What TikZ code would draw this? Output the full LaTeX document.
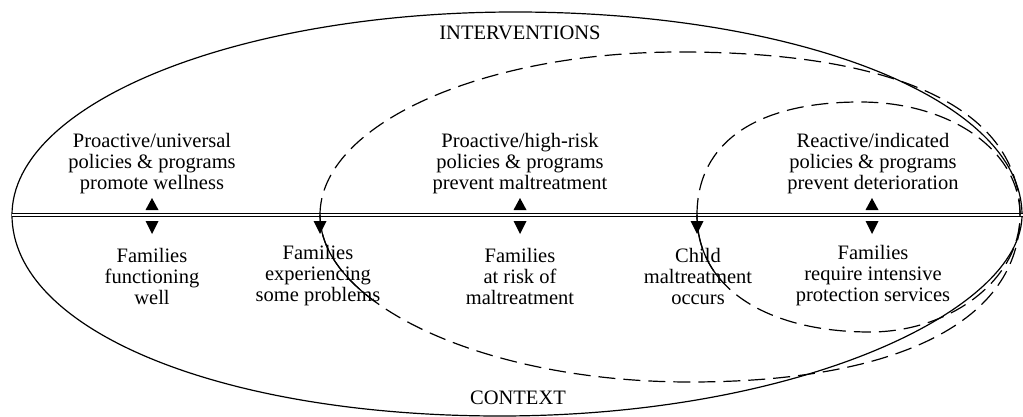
\documentclass[tikz,border=0pt]{standalone}
\usepackage{fontspec}
\setmainfont{Liberation Serif}
\begin{document}
\begin{tikzpicture}[x=1pt,y=-1pt,
  lbl/.style={align=center,inner sep=0pt,font=\fontsize{20.5}{21}\selectfont},
  curve/.style={line width=1.2pt},
  dcurve/.style={line width=1.2pt,dash pattern=on 17pt off 8pt},
  pics/upTri/.style={code={\fill (-6.5,0) -- (6.5,0) -- (0,-12) -- cycle;}},
  pics/downTri/.style={code={\fill (-6.5,0) -- (6.5,0) -- (0,13) -- cycle;}}]
\useasboundingbox (0,0) rectangle (1023,417);
% outer shape
\draw[curve] (12,215) .. controls (12,103) and (237,12) .. (515,12)
  .. controls (800,12) and (1022,100) .. (1022,215)
  .. controls (1022,310) and (800,416) .. (500,416)
  .. controls (220,416) and (12,330) .. (12,215);
% dividing double line
\coordinate (lineL) at (12,215);
\coordinate (lineR) at (1023,215);
\draw[double,double distance=2.4pt,line width=0.9pt] (lineL) -- (lineR);
% dashed curve 1
\draw[dcurve] (320,215) .. controls (320,125) and (481,52) .. (680,52)
  .. controls (900,52) and (1020,110) .. (1020,215)
  .. controls (1020,320) and (900,382) .. (690,382)
  .. controls (486,382) and (320,305) .. (320,215);
\draw[curve] (320,215) .. controls (320,246.5) and (340.34,276.41) .. (375.52,301.98);
% dashed curve 2
\draw[dcurve] (697,215) .. controls (697,140) and (760,102) .. (860,102)
  .. controls (950,102) and (1020,150) .. (1020,215)
  .. controls (1020,280) and (950,332) .. (870,332)
  .. controls (770,332) and (697,290) .. (697,215);
\draw[curve] (697,215) .. controls (697,241.25) and (705.94,263.49) .. (721.85,281.26);
% arrowheads
\pic at (152,210) {upTri};
\pic at (152,221) {downTri};
\pic at (520,210) {upTri};
\pic at (520,221) {downTri};
\pic at (872,210) {upTri};
\pic at (872,221) {downTri};
\pic at (320,221) {downTri};
\pic at (697,221) {downTri};
% texts
\node[lbl] (interv) at (520,33) {INTERVENTIONS};
\node[lbl] (context) at (518,398) {CONTEXT};
\node[lbl] (t1) at (152,164) {Proactive/universal\\policies \& programs\\promote wellness};
\node[lbl] (t2) at (520,164) {Proactive/high-risk\\policies \& programs\\prevent maltreatment};
\node[lbl] (t3) at (873,164) {Reactive/indicated\\policies \& programs\\prevent deterioration};
\node[lbl] (b1) at (152,276) {Families\\functioning\\well};
\node[lbl] (b2) at (318,276) {Families\\experiencing\\some problems};
\node[lbl] (b3) at (520,276) {Families\\at risk of\\maltreatment};
\node[lbl] (b4) at (698,276) {Child\\maltreatment\\occurs};
\node[lbl] (b5) at (873,276) {Families\\require intensive\\protection services};
\end{tikzpicture}
\end{document}
